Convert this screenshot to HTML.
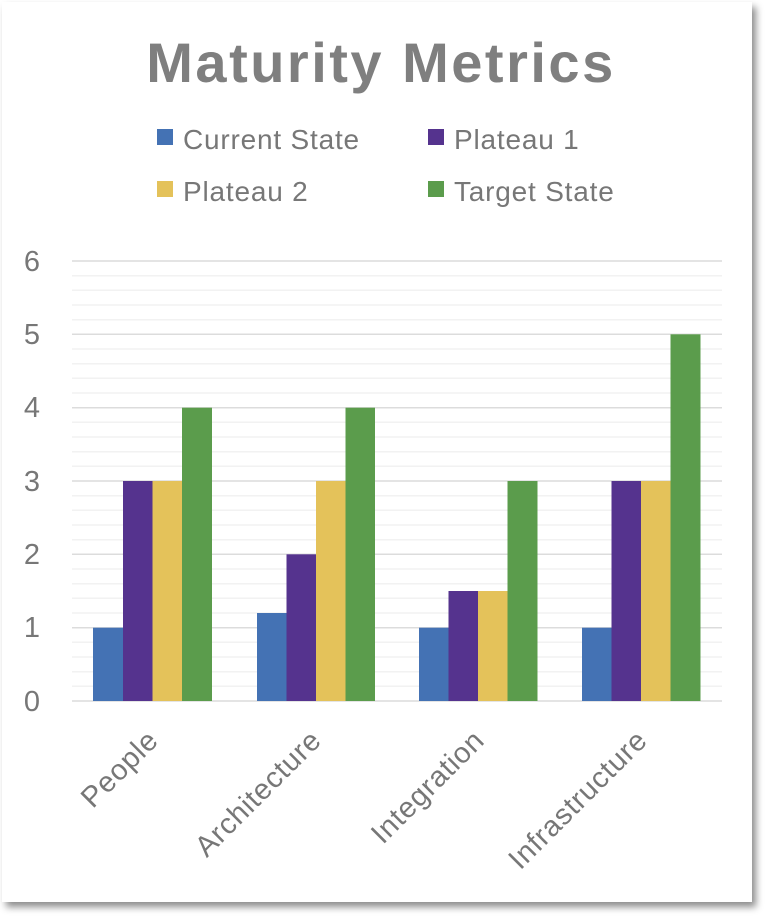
<!DOCTYPE html>
<html><head><style>
html,body{margin:0;padding:0;background:#fff;}
#p{position:absolute;left:2px;top:2px;width:750px;height:900px;background:#fff;box-shadow:4px 5px 7px rgba(0,0,0,0.45);}
svg{position:absolute;left:0;top:0;}
text{font-family:"Liberation Sans",sans-serif;fill:#777;}
</style></head><body>
<div id="p"></div>
<svg width="772" height="922" viewBox="0 0 772 922">
<text x="381" y="82" text-anchor="middle" font-size="56" font-weight="bold" letter-spacing="2.5" style="fill:#7f7f7f">Maturity Metrics</text>
<g font-size="28" letter-spacing="0.8">
<rect x="157" y="129" width="16" height="16" fill="#4472b4"/><text x="183" y="149">Current State</text>
<rect x="428" y="129" width="16" height="16" fill="#55338e"/><text x="454" y="149">Plateau 1</text>
<rect x="157" y="181" width="16" height="16" fill="#e4c25a"/><text x="183" y="201">Plateau 2</text>
<rect x="428" y="181" width="16" height="16" fill="#5b9c4c"/><text x="454" y="201">Target State</text>
</g>
<g stroke="#f2f2f2" stroke-width="1.5">
<line x1="72" x2="722" y1="275.7" y2="275.7"/><line x1="72" x2="722" y1="290.3" y2="290.3"/><line x1="72" x2="722" y1="305" y2="305"/><line x1="72" x2="722" y1="319.7" y2="319.7"/>
<line x1="72" x2="722" y1="349" y2="349"/><line x1="72" x2="722" y1="363.7" y2="363.7"/><line x1="72" x2="722" y1="378.3" y2="378.3"/><line x1="72" x2="722" y1="393" y2="393"/>
<line x1="72" x2="722" y1="422.3" y2="422.3"/><line x1="72" x2="722" y1="437" y2="437"/><line x1="72" x2="722" y1="451.7" y2="451.7"/><line x1="72" x2="722" y1="466.3" y2="466.3"/>
<line x1="72" x2="722" y1="495.7" y2="495.7"/><line x1="72" x2="722" y1="510.3" y2="510.3"/><line x1="72" x2="722" y1="525" y2="525"/><line x1="72" x2="722" y1="539.7" y2="539.7"/>
<line x1="72" x2="722" y1="569" y2="569"/><line x1="72" x2="722" y1="583.7" y2="583.7"/><line x1="72" x2="722" y1="598.3" y2="598.3"/><line x1="72" x2="722" y1="613" y2="613"/>
<line x1="72" x2="722" y1="642.3" y2="642.3"/><line x1="72" x2="722" y1="657" y2="657"/><line x1="72" x2="722" y1="671.7" y2="671.7"/><line x1="72" x2="722" y1="686.3" y2="686.3"/>
</g>
<g stroke="#dcdcdc" stroke-width="1.5">
<line x1="72" x2="722" y1="261" y2="261"/><line x1="72" x2="722" y1="334.3" y2="334.3"/><line x1="72" x2="722" y1="407.7" y2="407.7"/><line x1="72" x2="722" y1="481" y2="481"/><line x1="72" x2="722" y1="554.3" y2="554.3"/><line x1="72" x2="722" y1="627.7" y2="627.7"/><line x1="72" x2="722" y1="701" y2="701"/>
</g>
<g font-size="29" text-anchor="middle">
<text x="32" y="271">6</text><text x="32" y="344">5</text><text x="32" y="417">4</text><text x="32" y="491">3</text><text x="32" y="564">2</text><text x="32" y="637">1</text><text x="32" y="711">0</text>
</g>
<g>
<rect x="93" y="627.7" width="30" height="73.3" fill="#4472b4"/><rect x="123" y="481" width="29.5" height="220" fill="#55338e"/><rect x="152.5" y="481" width="29.5" height="220" fill="#e4c25a"/><rect x="182" y="407.7" width="30" height="293.3" fill="#5b9c4c"/>
<rect x="257" y="613" width="29.5" height="88" fill="#4472b4"/><rect x="286.5" y="554.3" width="29.5" height="146.7" fill="#55338e"/><rect x="316" y="481" width="29.5" height="220" fill="#e4c25a"/><rect x="345.5" y="407.7" width="29.5" height="293.3" fill="#5b9c4c"/>
<rect x="419" y="627.7" width="29.5" height="73.3" fill="#4472b4"/><rect x="448.5" y="591" width="29.5" height="110" fill="#55338e"/><rect x="478" y="591" width="29.5" height="110" fill="#e4c25a"/><rect x="507.5" y="481" width="30" height="220" fill="#5b9c4c"/>
<rect x="582" y="627.7" width="29.5" height="73.3" fill="#4472b4"/><rect x="611.5" y="481" width="29.5" height="220" fill="#55338e"/><rect x="641" y="481" width="29.5" height="220" fill="#e4c25a"/><rect x="670.5" y="334.3" width="30" height="366.7" fill="#5b9c4c"/>
</g>
<g font-size="29" text-anchor="end" letter-spacing="0.8" style="fill:#8a8a8a">
<text transform="translate(160,742) rotate(-45)">People</text>
<text transform="translate(323,742) rotate(-45)">Architecture</text>
<text transform="translate(486,742) rotate(-45)">Integration</text>
<text transform="translate(649,742) rotate(-45)">Infrastructure</text>
</g>
</svg>
</body></html>
